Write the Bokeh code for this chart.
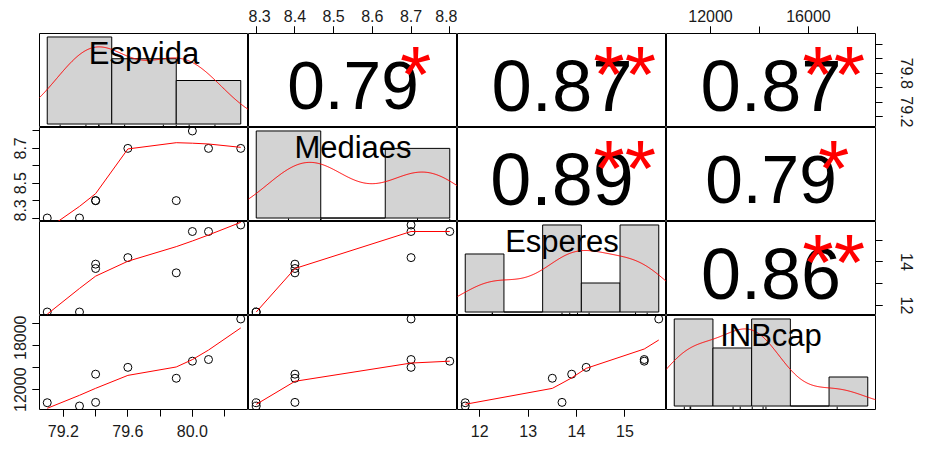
import numpy as np
from bokeh.plotting import figure
from bokeh.layouts import gridplot
from bokeh.models import Range1d, LinearAxis, FixedTicker, PrintfTickFormatter
from bokeh.core.properties import value
from bokeh.embed import file_html
from bokeh.resources import INLINE

# ---------------- data ----------------
var_names = ["Espvida", "Mediaes", "Esperes", "INBcap"]
espvida = [79.1, 79.3, 79.4, 79.4, 79.6, 79.9, 80.0, 80.1, 80.3]
mediaes = [8.3, 8.3, 8.4, 8.4, 8.7, 8.4, 8.8, 8.7, 8.7]
esperes = [11.7, 11.7, 13.9, 13.7, 14.2, 13.5, 15.4, 15.4, 15.7]
inbcap = [10820, 10520, 13410, 10850, 14030, 13040, 14590, 14740, 18420]

espvida_breaks = [79.0, 79.5, 80.0, 80.5]
mediaes_breaks = [8.2, 8.4, 8.6, 8.8]
esperes_breaks = [11, 12, 13, 14, 15, 16]
inbcap_breaks = [10000, 12000, 14000, 16000, 18000, 20000]

# upper panels (row, col), correlation text and significance stars
cor_pairs = [(0, 1), (0, 2), (0, 3), (1, 2), (1, 3), (2, 3)]
cor_labels = ["0.79", "0.87", "0.87", "0.89", "0.79", "0.86"]
cor_stars = ["*", "**", "**", "**", "*", "**"]

# tick positions and labelled ticks
espvida_ticks = [79.2, 79.4, 79.6, 79.8, 80.0, 80.2]
espvida_bottom_labels = [79.2, 79.6, 80.0]
espvida_right_labels = [79.2, 79.8]
mediaes_ticks = [8.3, 8.4, 8.5, 8.6, 8.7, 8.8]
mediaes_top_labels = [8.3, 8.4, 8.5, 8.6, 8.7, 8.8]
mediaes_left_labels = [8.3, 8.5, 8.7]
esperes_ticks = [12, 13, 14, 15]
esperes_bottom_labels = [12, 13, 14, 15]
esperes_right_labels = [12, 14]
inbcap_ticks = [12000, 14000, 16000, 18000]
inbcap_top_labels = [12000, 16000]
inbcap_left_labels = [12000, 18000]

data = [espvida, mediaes, esperes, inbcap]
breaks = [espvida_breaks, mediaes_breaks, esperes_breaks, inbcap_breaks]

# ---------------- helpers ----------------
FONT = "Liberation Sans"
FW, FH = 209, 94
B_LEFT, B_RIGHT, B_TOP, B_BOTTOM = 39, 41, 33, 32
TICK = 7
CK = 62.0          # size factor for correlation text
LABEL_FS = 31


def ext(lo, hi):
    d = hi - lo
    return lo - 0.04 * d, hi + 0.04 * d


def hist_counts(v, br):
    v = np.asarray(v, float)
    br = np.asarray(br, float)
    idx = np.searchsorted(br, v, side="left") - 1
    idx = np.clip(idx, 0, len(br) - 2)
    return np.bincount(idx, minlength=len(br) - 1)


def bw_nrd0(x):
    x = np.asarray(x, float)
    hi = np.std(x, ddof=1)
    q75, q25 = np.percentile(x, [75, 25])
    lo = min(hi, (q75 - q25) / 1.34)
    if not lo:
        lo = hi or abs(x[0]) or 1.0
    return 0.9 * lo * len(x) ** -0.2


def kde(x):
    x = np.asarray(x, float)
    bw = bw_nrd0(x)
    g = np.linspace(x.min() - 3 * bw, x.max() + 3 * bw, 512)
    z = (g[:, None] - x[None, :]) / bw
    d = np.exp(-0.5 * z ** 2).sum(axis=1) / (len(x) * bw * np.sqrt(2 * np.pi))
    return g, d


def r_lowess(x, y, f=2 / 3, iters=3):
    x = np.asarray(x, float)
    y = np.asarray(y, float)
    o = np.argsort(x, kind="stable")
    x = x[o]
    y = y[o]
    n = len(x)
    delta = 0.01 * (x[-1] - x[0])
    ns = max(2, min(n, int(f * n + 1e-7)))
    X = np.concatenate([[0.0], x])
    Y = np.concatenate([[0.0], y])
    ys = np.zeros(n + 1)
    rw = np.ones(n + 1)

    def lowest(xs, nleft, nright, userw):
        rng = X[n] - X[1]
        h = max(xs - X[nleft], X[nright] - xs)
        h9, h1 = 0.999 * h, 0.001 * h
        w = np.zeros(n + 1)
        a = 0.0
        j = nleft
        while j <= n:
            r = abs(X[j] - xs)
            if r <= h9:
                w[j] = 1.0 if r <= h1 else (1 - (r / h) ** 3) ** 3
                if userw:
                    w[j] *= rw[j]
                a += w[j]
            elif X[j] > xs:
                break
            j += 1
        nrt = j - 1
        if a <= 0:
            return None
        sl = slice(nleft, nrt + 1)
        w[sl] /= a
        if h > 0:
            a = np.sum(w[sl] * X[sl])
            b = xs - a
            c = np.sum(w[sl] * (X[sl] - a) ** 2)
            if np.sqrt(c) > 0.001 * rng:
                b /= c
                w[sl] *= (b * (X[sl] - a) + 1)
        return np.sum(w[sl] * Y[sl])

    it = 1
    while it <= iters + 1:
        nleft, nright, last, i = 1, ns, 0, 1
        while True:
            if nright < n:
                d1 = X[i] - X[nleft]
                d2 = X[nright + 1] - X[i]
                if d1 > d2:
                    nleft += 1
                    nright += 1
                    continue
            v = lowest(X[i], nleft, nright, it > 1)
            ys[i] = Y[i] if v is None else v
            if last < i - 1:
                denom = X[i] - X[last]
                for j in range(last + 1, i):
                    alpha = (X[j] - X[last]) / denom
                    ys[j] = alpha * ys[i] + (1 - alpha) * ys[last]
            last = i
            cut = X[last] + delta
            i = last + 1
            while i <= n:
                if X[i] > cut:
                    break
                if X[i] == X[last]:
                    ys[i] = ys[last]
                    last = i
                i += 1
            i = max(last + 1, i - 1)
            if last >= n:
                break
        res = Y[1:] - ys[1:]
        sc = np.mean(np.abs(res))
        if it > iters:
            break
        r = np.abs(res)
        srt = np.sort(r)
        m1 = n // 2
        if n % 2 == 0:
            cmad = 3 * (srt[m1] + srt[n - m1 - 1])
        else:
            cmad = 6 * srt[m1]
        if cmad < 1e-7 * sc:
            break
        c9, c1 = 0.999 * cmad, 0.001 * cmad
        rw[1:] = np.where(r <= c1, 1.0,
                          np.where(r <= c9, (1 - (r / cmad) ** 2) ** 2, 0.0))
        it += 1
    return x, ys[1:]


def add_axis(p, side, ticks, labels, fmt, standoff):
    ax = LinearAxis(ticker=FixedTicker(ticks=labels, minor_ticks=ticks),
                    formatter=PrintfTickFormatter(format=fmt))
    ax.axis_line_color = None
    ax.major_tick_out = TICK
    ax.major_tick_in = 0
    ax.minor_tick_out = TICK
    ax.minor_tick_in = 0
    ax.major_tick_line_color = "black"
    ax.minor_tick_line_color = "black"
    ax.major_label_text_font = FONT
    ax.major_label_text_font_size = "16px"
    ax.major_label_text_color = "#1a1a1a"
    ax.major_label_standoff = standoff
    if side in ("left", "right"):
        ax.major_label_orientation = "vertical"
    p.add_layout(ax, side)


# axes: (row, col) -> list of (side, ticks, labels, fmt, standoff)
axes_spec = {
    (3, 0): [("below", espvida_ticks, espvida_bottom_labels, "%.1f", 8),
             ("left", inbcap_ticks, inbcap_left_labels, "%d", 6)],
    (3, 2): [("below", esperes_ticks, esperes_bottom_labels, "%d", 8)],
    (0, 1): [("above", mediaes_ticks, mediaes_top_labels, "%.1f", 5)],
    (0, 3): [("above", inbcap_ticks, inbcap_top_labels, "%d", 5),
             ("right", espvida_ticks, espvida_right_labels, "%.1f", 18)],
    (1, 0): [("left", mediaes_ticks, mediaes_left_labels, "%.1f", 6)],
    (2, 3): [("right", esperes_ticks, esperes_right_labels, "%d", 18)],
}

n_obs = len(espvida)
rows = []
for i in range(4):
    row = []
    for j in range(4):
        if i == j:
            br = np.asarray(breaks[i], float)
            dens = hist_counts(data[i], br) / (n_obs * np.diff(br))
            xr = ext(br[0], br[-1])
            yr = ext(0.0, dens.max())
        else:
            xr = ext(min(data[j]), max(data[j]))
            yr = ext(min(data[i]), max(data[i]))
        p = figure(frame_width=FW, frame_height=FH,
                   x_range=Range1d(*xr), y_range=Range1d(*yr),
                   x_axis_type=None, y_axis_type=None,
                   toolbar_location=None, output_backend="svg",
                   min_border_left=B_LEFT if j == 0 else 0,
                   min_border_right=B_RIGHT if j == 3 else 0,
                   min_border_top=B_TOP if i == 0 else 0,
                   min_border_bottom=B_BOTTOM if i == 3 else 0)
        p.outline_line_color = "black"
        p.outline_line_width = 1
        p.background_fill_color = "white"
        p.border_fill_color = "white"
        p.extra_x_ranges = {"u": Range1d(0, 1)}
        p.extra_y_ranges = {"u": Range1d(0, 1)}

        if i == j:
            v = data[i]
            p.quad(left=br[:-1], right=br[1:], bottom=0, top=dens,
                   fill_color="#D3D3D3", line_color="black", line_width=1)
            gx, gy = kde(v)
            p.line(gx, gy, color="red", line_width=1)
            y0 = yr[0]
            y1 = yr[0] + 0.03 * (yr[1] - yr[0])
            p.segment(x0=v, y0=[y0] * n_obs, x1=v, y1=[y1] * n_obs,
                      color="black", line_width=1)
            p.text(x=[0.5], y=[0.833], text=[var_names[i]],
                   x_range_name="u", y_range_name="u",
                   text_font=value(FONT), text_font_size=value(f"{LABEL_FS}px"),
                   text_align="center", text_baseline="middle",
                   y_offset=0.128 * LABEL_FS, text_color="black")
        elif i > j:
            p.scatter(data[j], data[i], marker="circle", size=8,
                      fill_color=None, line_color="black", line_width=1)
            lx, ly = r_lowess(data[j], data[i])
            p.line(lx, ly, color="red", line_width=1)
        else:
            k = cor_pairs.index((i, j))
            r = abs(float(cor_labels[k]))
            fs = CK * (r + 0.3)
            sfs = CK * 1.3
            p.text(x=[0.5], y=[0.5], text=[cor_labels[k]],
                   x_range_name="u", y_range_name="u",
                   text_font=value(FONT), text_font_size=value(f"{fs:.1f}px"),
                   text_align="center", text_baseline="middle",
                   y_offset=0.06 * fs + 1, text_color="black")
            p.text(x=[0.8], y=[0.8], text=[cor_stars[k]],
                   x_range_name="u", y_range_name="u",
                   text_font=value(FONT), text_font_size=value(f"{sfs:.1f}px"),
                   text_align="center", text_baseline="middle",
                   y_offset=0.25 * sfs + 2, text_color="red")

        for spec in axes_spec.get((i, j), []):
            add_axis(p, *spec)
        row.append(p)
    rows.append(row)

grid = gridplot(rows, toolbar_location=None)
open("out.html", "w").write(file_html(grid, INLINE))
